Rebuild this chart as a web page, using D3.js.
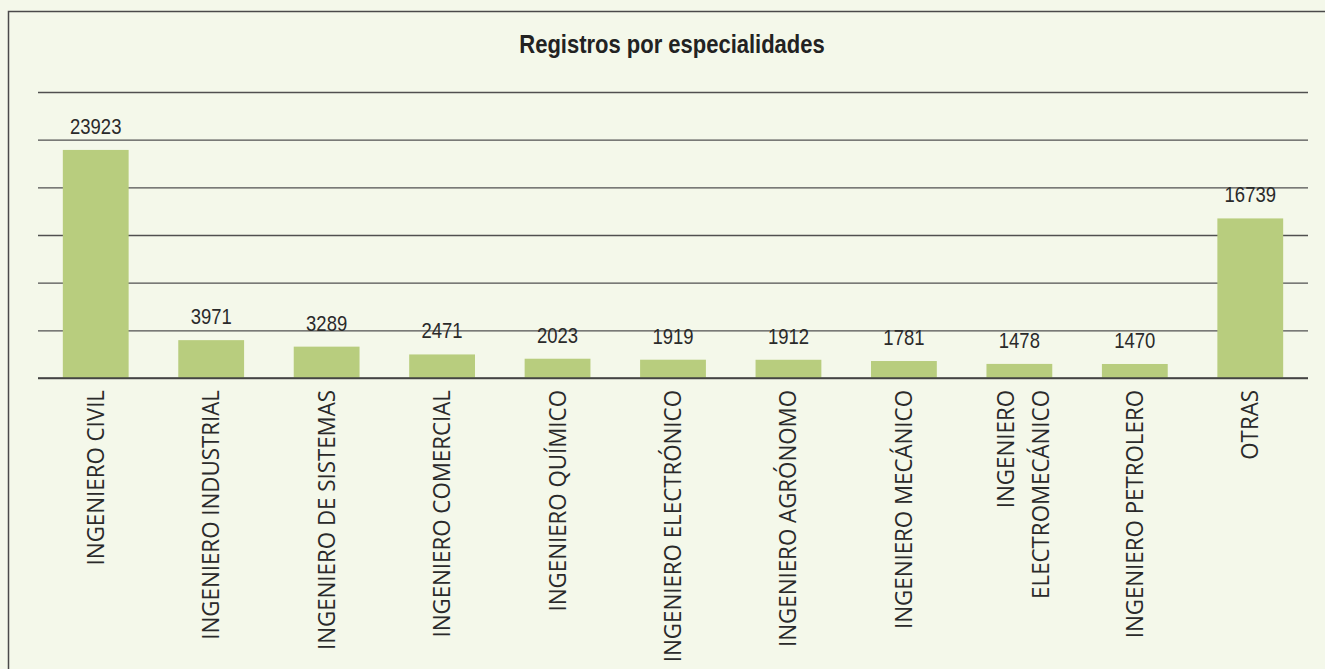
<!DOCTYPE html>
<html>
<head>
<meta charset="utf-8">
<script src="https://cdn.jsdelivr.net/npm/d3@7"></script>
<style>
  body { margin:0; background:#f4f8ea; }
  svg { display:block; }
</style>
</head>
<body>
<svg id="drawing_region"></svg>
<script>
// data
const categories = [
    ["INGENIERO CIVIL"],
    ["INGENIERO INDUSTRIAL"],
    ["INGENIERO DE SISTEMAS"],
    ["INGENIERO COMERCIAL"],
    ["INGENIERO QUÍMICO"],
    ["INGENIERO ELECTRÓNICO"],
    ["INGENIERO AGRÓNOMO"],
    ["INGENIERO MECÁNICO"],
    ["INGENIERO", "ELECTROMECÁNICO"],
    ["INGENIERO PETROLERO"],
    ["OTRAS"]
];
const values = [23923, 3971, 3289, 2471, 2023, 1919, 1912, 1781, 1478, 1470, 16739];
const yTicks = [0, 5000, 10000, 15000, 20000, 25000, 30000];
const title = "Registros por especialidades";

const config = {
    width: 1325,
    height: 669,
    margin: {top:92, right:17, bottom:291, left:38}
};

const svg = d3.select('#drawing_region')
    .attr('width', config.width)
    .attr('height', config.height);

// frame
svg.append('rect')
    .attr('x', 8.5).attr('y', 11.5)
    .attr('width', 1330).attr('height', 700)
    .attr('fill', '#f4f8ea')
    .attr('stroke', '#4a4a4a')
    .attr('stroke-width', 1.5);

const inner_width = config.width - config.margin.left - config.margin.right;
const inner_height = config.height - config.margin.top - config.margin.bottom;

const chart = svg.append('g')
    .attr('transform', `translate(${config.margin.left}, ${config.margin.top})`);

const xscale = d3.scaleBand()
    .domain(d3.range(values.length))
    .range([0, inner_width])
    .paddingInner(0.43)
    .paddingOuter(0.215);

const yscale = d3.scaleLinear()
    .domain([0, 30000])
    .range([inner_height, 0]);

// gridlines
const yaxis = d3.axisLeft(yscale)
    .tickValues(yTicks)
    .tickSize(-inner_width)
    .tickFormat('');

chart.append('g')
    .call(yaxis)
    .call(g => g.select('.domain').remove())
    .call(g => g.selectAll('.tick line')
        .attr('stroke', '#505050')
        .attr('stroke-width', 1.3));

// bars
chart.selectAll('rect.bar')
    .data(values)
    .enter()
    .append('rect')
    .attr('class', 'bar')
    .attr('x', (d, i) => xscale(i))
    .attr('y', d => yscale(d))
    .attr('width', xscale.bandwidth())
    .attr('height', d => inner_height - yscale(d))
    .attr('fill', '#b8cd7e');

// baseline on top of bars
chart.append('line')
    .attr('x1', 0).attr('x2', inner_width)
    .attr('y1', yscale(0)).attr('y2', yscale(0))
    .attr('stroke', '#404040')
    .attr('stroke-width', 1.3);

// value labels (squeezed to look condensed)
chart.selectAll('text.value')
    .data(values)
    .enter()
    .append('text')
    .attr('class', 'value')
    .attr('transform', (d, i) =>
        `translate(${xscale(i) + xscale.bandwidth() / 2}, ${yscale(d) - 16}) scale(0.84, 1)`)
    .attr('text-anchor', 'middle')
    .attr('font-family', '"Liberation Sans", Arial, sans-serif')
    .attr('font-size', '22px')
    .attr('fill', '#2a2a2a')
    .text(d => d);

// category labels, rotated
const labels = chart.selectAll('g.cat')
    .data(categories)
    .enter()
    .append('g')
    .attr('class', 'cat')
    .attr('transform', (d, i) =>
        `translate(${xscale(i) + xscale.bandwidth() / 2}, ${inner_height + 12})`);

labels.each(function(lines) {
    const g = d3.select(this);
    const gap = 35;
    lines.forEach((line, k) => {
        const off = (k - (lines.length - 1) / 2) * gap + (lines.length > 1 ? 12 : 8);
        g.append('text')
            .attr('transform', `translate(${off}, 0) rotate(-90) scale(0.93, 1)`)
            .attr('text-anchor', 'end')
            .attr('font-family', '"Open Sans", sans-serif')
            .attr('font-size', '24px')
            .attr('fill', '#2a2a2a')
            .text(line);
    });
});

// title
svg.append('text')
    .attr('transform', 'translate(672, 53) scale(0.88, 1)')
    .attr('text-anchor', 'middle')
    .attr('font-family', '"Liberation Sans", Arial, sans-serif')
    .attr('font-weight', 'bold')
    .attr('font-size', '25px')
    .attr('fill', '#222')
    .text(title);
</script>
</body>
</html>
